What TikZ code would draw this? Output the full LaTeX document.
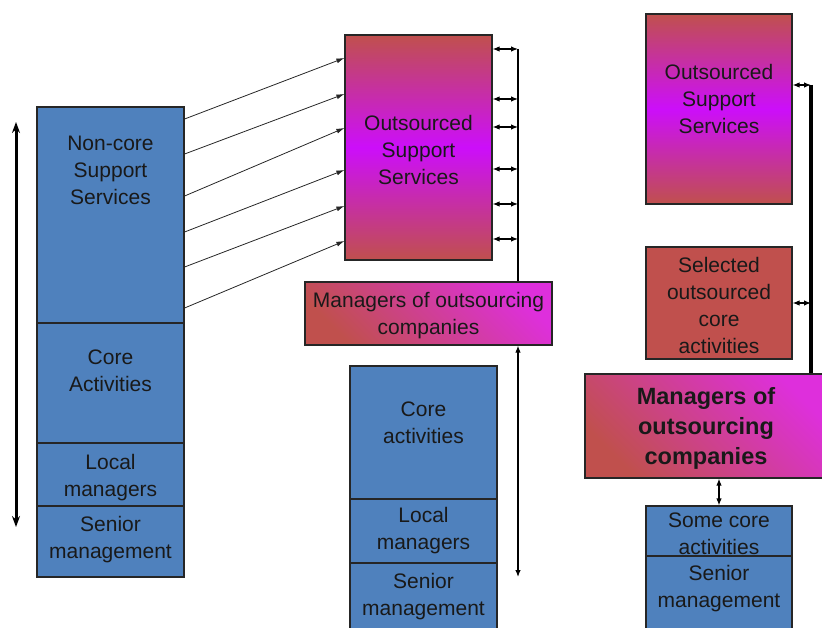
\documentclass[tikz,border=0pt]{standalone}
\usepackage{fontspec}
\setmainfont{Liberation Sans}
\usetikzlibrary{arrows.meta}

\definecolor{boxblue}{HTML}{4F81BD}
\definecolor{boxred}{HTML}{C0504D}
\definecolor{boxmag}{HTML}{CC0EFA}
\definecolor{boxpink}{HTML}{DE2FDC}

\tikzset{
  box/.style={draw=black!85, line width=1.2pt, minimum width=147pt, inner sep=0pt},
  bluebox/.style={box, fill=boxblue},
  outbox/.style={box, top color=boxred, bottom color=boxred, middle color=boxmag},
  mgrbox/.style={box, bottom color=boxred, top color=boxpink, shading angle=-45},
  lbl/.style={align=center, font=\fontsize{21}{27}\selectfont, text=black!90},
  biglbl/.style={align=center, font=\fontsize{23.5}{30}\selectfont\bfseries, text=black!90},
  feed/.style={line width=0.8pt, draw=black!85, -{Latex[length=8pt,width=5pt]}},
  link/.style={line width=1.2pt, {Latex[length=7pt,width=5.5pt]}-{Latex[length=7pt,width=5.5pt]}},
  span/.style={line width=3pt, {Stealth[length=11pt,width=8pt]}-{Stealth[length=11pt,width=8pt]}}
}

\begin{document}
\begin{tikzpicture}[x=1pt,y=-1pt]
\clip (0,0) rectangle (822,628);

% first column
\node[bluebox, minimum height=216pt] (noncore) at (110.5,215) {};
\node[bluebox, minimum height=120pt] (core) at (110.5,383) {};
\node[bluebox, minimum height=63pt] (local) at (110.5,474.5) {};
\node[bluebox, minimum height=71pt] (senior) at (110.5,541.5) {};
\node[lbl] (noncoretxt) at (110.5,170) {Non-core\\Support\\Services};
\node[lbl] (coretxt) at (110.5,371) {Core\\Activities};
\node[lbl] (localtxt) at (110.5,478) {Local\\managers};
\node[lbl] (seniortxt) at (110.5,540) {Senior\\management};

% second column
\node[outbox, minimum height=225pt] (oss) at (418.5,147.5) {};
\node[lbl] (osstxt) at (418.5,150) {Outsourced\\Support\\Services};
\node[mgrbox, minimum width=247pt, minimum height=63pt] (mgr) at (428.5,313.5) {};
\node[lbl] (mgrtxt) at (428.5,315.5) {Managers of outsourcing\\companies};
\node[bluebox, minimum height=133pt] (coreb) at (423.5,432.5) {};
\node[bluebox, minimum height=64pt] (localb) at (423.5,531) {};
\node[bluebox, minimum height=77pt] (seniorb) at (423.5,601.5) {};
\node[lbl] (corebtxt) at (423.5,423) {Core\\activities};
\node[lbl] (localbtxt) at (423.5,530.5) {Local\\managers};
\node[lbl] (seniorbtxt) at (423.5,597) {Senior\\management};

% third column
\node[outbox, minimum width=146pt, minimum height=190pt] (ossc) at (719,109) {};
\node[lbl] (ossctxt) at (719,98.5) {Outsourced\\Support\\Services};
\node[box, fill=boxred, minimum width=146pt, minimum height=112pt] (sel) at (719,303) {};
\node[lbl] (seltxt) at (719,305) {Selected\\outsourced\\core\\activities};
\node[mgrbox, minimum width=245pt, minimum height=104pt] (mgrc) at (707.5,426) {};
\node[biglbl] (mgrctxt) at (706,428) {Managers of\\outsourcing\\companies};
\node[bluebox, minimum width=146pt, minimum height=50pt] (somecore) at (719,531) {};
\node[bluebox, minimum width=146pt, minimum height=84pt] (seniorc) at (719,598) {};
\node[lbl] (somecoretxt) at (719,534) {Some core\\activities};
\node[lbl] (seniorctxt) at (719,589) {Senior\\management};

\coordinate (spantop) at (16,122);
\coordinate (spanbot) at (16,527);
\coordinate (bus) at (518,49);
\coordinate (busend) at (518,577);
\coordinate (rbus) at (811,85);

\draw[span] (spantop) -- (spanbot);

\foreach \a/\b in {119/58,154/94,196/128,232/170,267/206,308/241}
  \draw[feed] (noncore.east |- 0,\a) -- (oss.west |- 0,\b);

\foreach \y in {49,99,127,169,204,239}
  \draw[link] (oss.east |- 0,\y) -- (bus |- 0,\y);
\draw[line width=1.2pt] (bus) -- (bus |- mgr.north);
\draw[link] (bus |- mgr.south) -- (busend);

\draw[line width=4pt] (rbus) -- (rbus |- mgrc.north);
\draw[link] (ossc.east |- rbus) -- (rbus);
\draw[link] (sel.east) -- (rbus |- sel.east);
\draw[link] (somecore.north |- mgrc.south) -- (somecore.north);

\end{tikzpicture}
\end{document}
